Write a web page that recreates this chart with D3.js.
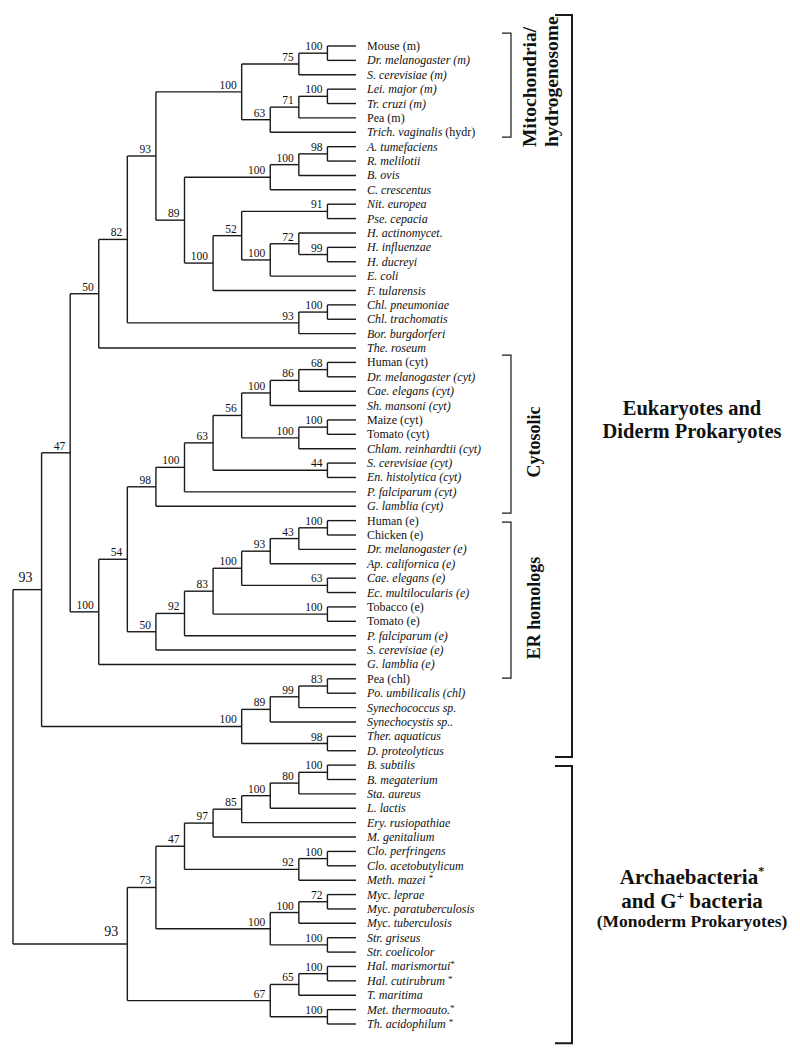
<!DOCTYPE html>
<html><head><meta charset="utf-8">
<script src="https://cdn.jsdelivr.net/npm/d3@7"></script>
<style>body{margin:0;background:#fff} svg{display:block}</style>
</head><body>
<script>
// ---- DATA ----
// Taxa (leaf order, top to bottom). _..._ = italic, ^* = superscript asterisk
const taxa = [
 "Mouse (m)","_Dr. melanogaster (m)_","_S. cerevisiae (m)_","_Lei. major (m)_","_Tr. cruzi (m)_",
 "Pea (m)","_Trich. vaginalis_ (hydr)","_A. tumefaciens_","_R. melilotii_","_B. ovis_",
 "_C. crescentus_","_Nit. europea_","_Pse. cepacia_","_H. actinomycet._","_H. influenzae_",
 "_H. ducreyi_","_E. coli_","_F. tularensis_","_Chl. pneumoniae_","_Chl. trachomatis_",
 "_Bor. burgdorferi_","_The. roseum_","Human (cyt)","_Dr. melanogaster (cyt)_","_Cae. elegans (cyt)_",
 "_Sh. mansoni (cyt)_","Maize (cyt)","Tomato (cyt)","_Chlam. reinhardtii (cyt)_","_S. cerevisiae (cyt)_",
 "_En. histolytica (cyt)_","_P. falciparum (cyt)_","_G. lamblia (cyt)_","Human (e)","Chicken (e)",
 "_Dr. melanogaster (e)_","_Ap. californica (e)_","_Cae. elegans (e)_","_Ec. multilocularis (e)_","Tobacco (e)",
 "Tomato (e)","_P. falciparum (e)_","_S. cerevisiae (e)_","_G. lamblia (e)_","Pea (chl)",
 "_Po. umbilicalis (chl)_","_Synechococcus sp._","_Synechocystis sp.._","_Ther. aquaticus_","_D. proteolyticus_",
 "_B. subtilis_","_B. megaterium_","_Sta. aureus_","_L. lactis_","_Ery. rusiopathiae_",
 "_M. genitalium_","_Clo. perfringens_","_Clo. acetobutylicum_","_Meth. mazei_ ^*","_Myc. leprae_",
 "_Myc. paratuberculosis_","_Myc. tuberculosis_","_Str. griseus_","_Str. coelicolor_","_Hal. marismortui_^*",
 "_Hal. cutirubrum_ ^*","_T. maritima_","_Met. thermoauto._^*","_Th. acidophilum_ ^*"
];

// Topology: [bootstrap, child, child, ...]; numbers are taxa indices
const tree = [null,
 [93,
  [47,
   [50,
    [82,
     [93,
      [100, [75,[100,0,1],2], [63,[71,[100,3,4],5],6]],
      [89, [100,[100,[98,7,8],9],10], [100,[52,[91,11,12],[100,[72,13,[99,14,15]],16]],17]]
     ],
     [93,[100,18,19],20]
    ],
    21
   ],
   [100,
    [54,
     [98,[100,[63,[56,[100,[86,[68,22,23],24],25],[100,[100,26,27],28]],[44,29,30]],31],32],
     [50,[92,[83,[100,[93,[43,[100,33,34],35],36],[63,37,38]],[100,39,40]],41],42]
    ],
    43
   ]
  ],
  [100, [89,[99,[83,44,45],46],47], [98,48,49]]
 ],
 [93,
  [73,
   [47, [97,[85,[100,[80,[100,50,51],52],53],54],55], [92,[100,56,57],58]],
   [100, [100,[72,59,60],61], [100,62,63]]
  ],
  [67, [65,[100,64,65],66], [100,67,68]]
 ]
];

// Group brackets (extent in leaf-index units)
const innerGroups = [
 {lines:["Mitochondria/","hydrogenosome"], from:-0.9, to:6.33},
 {lines:["Cytosolic"], from:21.49, to:32.48},
 {lines:["ER homologs"], from:33.1, to:43.95}
];
const outerGroups = [
 {from:-2.16, to:49.44},
 {from:50.07, to:69.33}
];

// ---- DRAW ----
const W=800, H=1058;
const svg = d3.select("body").append("svg").attr("width",W).attr("height",H)
  .style("font-family","'Liberation Serif','Times New Roman',serif");

const root = d3.hierarchy(tree, d => Array.isArray(d) ? d.slice(1) : null);
const y = d3.scaleLinear().domain([0, taxa.length-1]).range([46, 1024]);
const x = d3.scaleLinear().domain([root.height, 0]).range([13, 356]);

let li = 0;
root.eachAfter(n => {
  if (!n.children) { n.py = y(n.data); }
  else n.py = (n.children[0].py + n.children[n.children.length-1].py)/2;
  n.px = x(n.height);
});

const g = svg.append("g").attr("stroke","#1a1a1a").attr("stroke-width",1.4).attr("fill","none");
root.descendants().forEach(n => {
  if (n.children) {
    g.append("line").attr("x1",n.px).attr("x2",n.px)
      .attr("y1",n.children[0].py).attr("y2",n.children[n.children.length-1].py);
  }
  if (n.parent) {
    g.append("line").attr("x1",n.parent.px).attr("x2",n.px).attr("y1",n.py).attr("y2",n.py);
  }
});

// bootstrap labels
root.descendants().filter(n => n.children && n.data[0] != null).forEach(n => {
  const big = n.depth === 1;
  svg.append("text").attr("x", n.px - (big?9:5)).attr("y", n.py - (big?8:3))
    .attr("text-anchor","end").attr("font-size", big?14:11.5).attr("fill","#111")
    .text(n.data[0]);
});

// leaf labels
root.leaves().forEach(n => {
  const t = svg.append("text").attr("x", 367).attr("y", n.py + 4)
    .attr("font-size",12).attr("fill","#111");
  const parts = taxa[n.data].split(/(_[^_]+_|\^\*)/).filter(s => s.length);
  parts.forEach(p => {
    if (p === "^*") t.append("tspan").attr("font-size",9).attr("dy",-3).text("*");
    else if (p[0] === "_") t.append("tspan").attr("font-style","italic").text(p.slice(1,-1));
    else t.append("tspan").text(p);
  });
});

// inner brackets
innerGroups.forEach((gr,i) => {
  const y1 = y(gr.from), y2 = y(gr.to);
  svg.append("path").attr("d",`M502,${y1}H511V${y2}H502`)
    .attr("fill","none").attr("stroke","#1a1a1a").attr("stroke-width",1.2);
  const cy = (y1+y2)/2;
  if (gr.lines.length === 2) {
    gr.lines.forEach((s,k) => {
      svg.append("text").attr("transform",`translate(${536+k*22},${y2+10}) rotate(-90)`)
        .attr("text-anchor","start").attr("font-weight","bold").attr("font-size",19.5)
        .attr("fill","#111").text(s);
    });
  } else {
    svg.append("text").attr("transform",`translate(540,${cy+8}) rotate(-90)`)
      .attr("text-anchor","middle").attr("font-weight","bold").attr("font-size",18)
      .attr("fill","#111").text(gr.lines[0]);
  }
});

// outer brackets
outerGroups.forEach(gr => {
  svg.append("path").attr("d",`M555,${y(gr.from)}H572V${y(gr.to)}H555`)
    .attr("fill","none").attr("stroke","#1a1a1a").attr("stroke-width",2);
});

const lab = (txt, yy, size) => svg.append("text").attr("x",692).attr("y",yy)
  .attr("text-anchor","middle").attr("font-weight","bold").attr("font-size",size).attr("fill","#111");
lab(null,415,20.5).text("Eukaryotes and");
lab(null,438,20.5).text("Diderm Prokaryotes");
const a1 = lab(null,884,21); a1.append("tspan").text("Archaebacteria"); a1.append("tspan").attr("font-size",12).attr("dy",-9).text("*");
const a2 = lab(null,908,21); a2.append("tspan").text("and G"); a2.append("tspan").attr("font-size",13).attr("dy",-8).text("+"); a2.append("tspan").attr("dy",8).text(" bacteria");
lab(null,927,17.5).text("(Monoderm Prokaryotes)");
</script>
</body></html>
